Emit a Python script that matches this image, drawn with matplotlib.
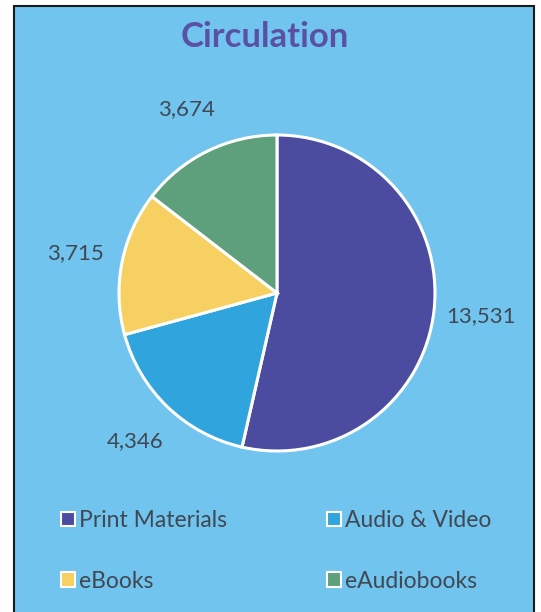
import matplotlib
matplotlib.use("Agg")
import matplotlib.pyplot as plt
from matplotlib.patches import Rectangle, Patch

categories = ["Print Materials", "Audio & Video", "eBooks", "eAudiobooks"]
values = [13531, 4346, 3715, 3674]
value_labels = ["13,531", "4,346", "3,715", "3,674"]
colors = ["#4B4C9F", "#2FA4DD", "#F6D060", "#5E9F7C"]
title = "Circulation"

W, H = 541, 612
fig = plt.figure(figsize=(W / 100, H / 100), dpi=100, facecolor="white")
plt.rcParams["font.family"] = ["Lato", "DejaVu Sans"]

bg = "#70C4EE"
# framed panel
panel = Rectangle((14 / W, -0.01), (534 - 14) / W, 1 - 6 / H + 0.01,
                  transform=fig.transFigure, facecolor=bg,
                  edgecolor="#1a1a1a", linewidth=1.5, zorder=-10)
fig.add_artist(panel)

fig.text(0.49, 1 - 37 / H, title, ha="center", va="center", fontsize=25,
         fontweight="bold", color="#5A51A5")

R = 158
cx, cy = 277, 293
ax = fig.add_axes([(cx - R) / W, 1 - (cy + R) / H, 2 * R / W, 2 * R / H])
ax.set_facecolor("none")
ax.set_zorder(5)
wedges, texts = ax.pie(values, labels=value_labels, colors=colors, startangle=90,
                       counterclock=False, radius=1.0, labeldistance=1.3,
                       wedgeprops=dict(edgecolor="white", linewidth=2.2),
                       textprops=dict(fontsize=16, color="#3F4853"))
for t in texts:
    t.set_ha("center")
    t.set_va("center")
ax.set_xlim(-1, 1)
ax.set_ylim(-1, 1)
ax.set_aspect("equal")
ax.axis("off")

order = [0, 2, 1, 3]
handles = [Patch(facecolor=colors[i], edgecolor="white", linewidth=1.5) for i in order]
labels = [categories[i] for i in order]
leg = fig.legend(handles, labels, loc="center", bbox_to_anchor=(0.511, 1 - 551 / H),
                 ncol=2, frameon=False, fontsize=16.5, labelcolor="#3F4853",
                 handlelength=0.6, handleheight=0.6, handletextpad=0.2,
                 labelspacing=1.73, columnspacing=4.35)
leg.set_zorder(6)

fig.savefig("out.png", dpi=100, facecolor="white")
